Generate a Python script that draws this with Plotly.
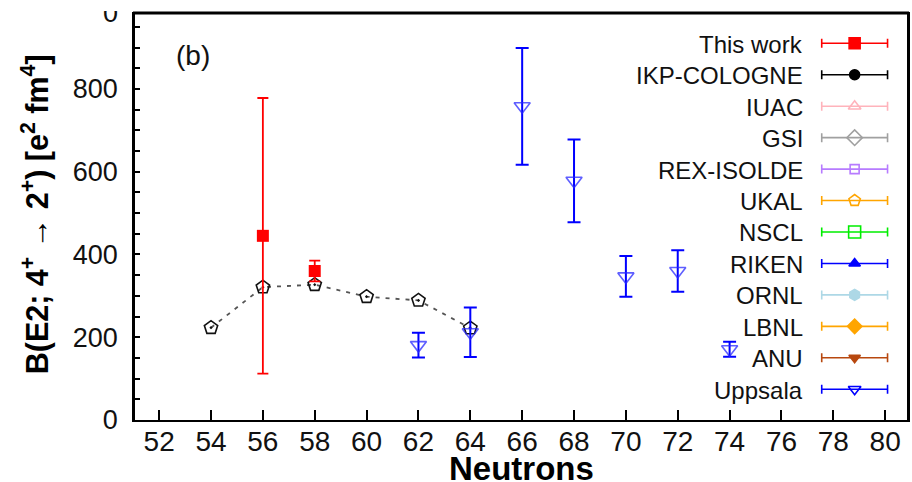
import plotly.graph_objects as go

# ---------------- data ----------------
theory_n = [54, 56, 58, 60, 62, 64]
theory_be2 = [223, 321, 327, 298, 289, 222]

this_n = [56, 58]
this_be2 = [445, 360]
this_err = [333, 25]

upp_n = [62, 64, 66, 68, 70, 72, 74]
upp_be2 = [181, 212, 758, 578, 347, 360, 171]
upp_err = [30, 60, 141, 100, 49, 50, 18]

x_ticks = list(range(52, 81, 2))

legend_names = ["This work", "IKP-COLOGNE", "IUAC", "GSI", "REX-ISOLDE", "UKAL",
                "NSCL", "RIKEN", "ORNL", "LBNL", "ANU", "Uppsala"]
legend_colors = ["#ff0000", "#000000", "#ffb3bb", "#a0a0a0", "#b77bff", "#ffa500",
                 "#00ee00", "#0000ff", "#add8e6", "#ffa500", "#b8480f", "#0000ff"]
legend_symbols = ["square", "circle", "triangle-up-open", "diamond-open", "square-open",
                  "pentagon-open", "square-open", "triangle-up", "hexagon", "diamond",
                  "triangle-down", "triangle-down-open"]
legend_sizes = [11, 10, 11, 12, 9, 12, 12, 10, 11, 11, 10, 11]

# ---------------- layout geometry (pixels) ----------------
W, H = 912, 482
L, R, T, B = 134, 2, 14, 62
PL, PR, PT, PB = L, W - R, T, H - B
FRAME_TOP = 13


def px_x(p):
    return (p - PL) / (PR - PL)


def px_y(p):
    return (PB - p) / (PB - PT)


FONT = "Liberation Sans, Arial, sans-serif"

fig = go.Figure()

# theory-like dashed pentagon curve
fig.add_trace(go.Scatter(
    x=theory_n, y=theory_be2, mode="lines+markers", showlegend=False,
    line=dict(color="#555555", width=1.8, dash="4px,6px"),
    marker=dict(symbol="pentagon-open-dot", size=14, color="#111111",
                line=dict(width=1.6, color="#111111")),
))

# Uppsala
fig.add_trace(go.Scatter(
    x=upp_n, y=upp_be2, mode="markers", showlegend=False,
    marker=dict(symbol="triangle-down-open", size=14, color="rgba(40,40,255,0.75)",
                line=dict(width=1.6)),
    error_y=dict(type="data", array=upp_err, symmetric=True, color="#0000ff",
                 thickness=2, width=6.5),
))

# This work
fig.add_trace(go.Scatter(
    x=this_n, y=this_be2, mode="markers", showlegend=False,
    marker=dict(symbol="square", size=12, color="#ff0000"),
    error_y=dict(type="data", array=this_err, symmetric=True, color="#ff0000",
                 thickness=1.8, width=5.5),
))

# ---------------- manual legend on pixel overlay axes ----------------
leg_y0, leg_dy = 43.3, 31.45
leg_xc, leg_half = 856.5, 33
annotations = []
for i, name in enumerate(legend_names):
    yc = leg_y0 + i * leg_dy
    col = legend_colors[i]
    fig.add_trace(go.Scatter(
        x=[leg_xc], y=[yc], mode="markers", showlegend=False, xaxis="x2", yaxis="y2",
        marker=dict(symbol=legend_symbols[i], size=legend_sizes[i], color=col,
                    line=dict(width=1.6, color=col)),
        error_x=dict(type="data", array=[leg_half], symmetric=True, color=col,
                     thickness=1.6, width=4.5),
        cliponaxis=False,
    ))
    annotations.append(dict(
        text=name, xref="paper", yref="paper", x=px_x(807), y=px_y(yc + 1),
        xanchor="right", yanchor="middle", showarrow=False,
        font=dict(family=FONT, size=24, color="#111111"),
    ))

# partially visible top tick label (upper part hidden, as in the source image)
annotations.append(dict(
    text="0", xref="paper", yref="paper", x=px_x(120), y=px_y(13.5),
    xanchor="right", yanchor="middle", showarrow=False,
    font=dict(family=FONT, size=27, color="#111111"),
))
annotations.append(dict(
    text="\u00a0", xref="paper", yref="paper", x=px_x(112), y=px_y(-2),
    xanchor="center", yanchor="top", showarrow=False, width=40, height=13,
    bgcolor="white", borderpad=0, borderwidth=0,
    font=dict(family=FONT, size=8, color="white"),
))

annotations.append(dict(
    text="(b)", xref="paper", yref="paper", x=px_x(193), y=px_y(55),
    xanchor="center", yanchor="middle", showarrow=False,
    font=dict(family=FONT, size=28, color="#111111"),
))

# axis titles
annotations.append(dict(
    text="<b>Neutrons</b>", xref="paper", yref="paper", x=0.5, y=px_y(469),
    xanchor="center", yanchor="middle", showarrow=False,
    font=dict(family=FONT, size=33, color="black"),
))
annotations.append(dict(
    text="<b>B(E2; 4<sup>+</sup> → 2<sup>+</sup>) [e<sup>2</sup> fm<sup>4</sup>]</b>",
    xref="paper", yref="paper", x=px_x(36), y=px_y(214), textangle=-90,
    xanchor="center", yanchor="middle", showarrow=False,
    font=dict(family=FONT, size=30.5, color="black"),
))

# frame: top and right edges drawn explicitly
shapes = [
    dict(type="rect", xref="paper", yref="paper", x0=px_x(133), x1=px_x(911),
         y0=px_y(FRAME_TOP + 1.5), y1=px_y(FRAME_TOP - 1.5),
         fillcolor="black", line=dict(width=0), layer="above"),
    dict(type="line", xref="paper", yref="paper", x0=1, x1=1,
         y0=0, y1=px_y(FRAME_TOP - 1),
         line=dict(color="black", width=2), layer="above"),
    dict(type="line", xref="paper", yref="paper", x0=0, x1=0,
         y0=0, y1=px_y(FRAME_TOP - 1),
         line=dict(color="black", width=2), layer="above"),
]

fig.update_layout(
    width=W, height=H,
    margin=dict(l=L, r=R, t=T, b=B, pad=0),
    paper_bgcolor="white", plot_bgcolor="white",
    font=dict(family=FONT, color="#111111"),
    showlegend=False,
    annotations=annotations,
    shapes=shapes,
    xaxis=dict(
        range=[51.03, 80.88], tickmode="array", tickvals=x_ticks,
        ticks="inside", ticklen=10, tickwidth=1.5, tickcolor="black",
        showline=True, mirror=True, linecolor="black", linewidth=1.8,
        showgrid=False, zeroline=False,
        tickfont=dict(family=FONT, size=28, color="#111111"),
        ticklabelstandoff=-5,
    ),
    yaxis=dict(
        range=[0, 981], tickmode="linear", tick0=0, dtick=200,
        ticks="inside", ticklen=6, tickwidth=1.5, tickcolor="black",
        minor=dict(ticks="inside", ticklen=6, tickwidth=1.5, tickcolor="black", dtick=50,
                   showgrid=False),
        showline=True, mirror=True, linecolor="black", linewidth=1.8,
        showgrid=False, zeroline=False,
        tickfont=dict(family=FONT, size=27, color="#111111"),
        ticklabelstandoff=9,
    ),
    xaxis2=dict(range=[PL, PR], overlaying="x", visible=False, fixedrange=True),
    yaxis2=dict(range=[PB, PT], overlaying="y", visible=False, fixedrange=True),
)

fig.write_html("out.html")
